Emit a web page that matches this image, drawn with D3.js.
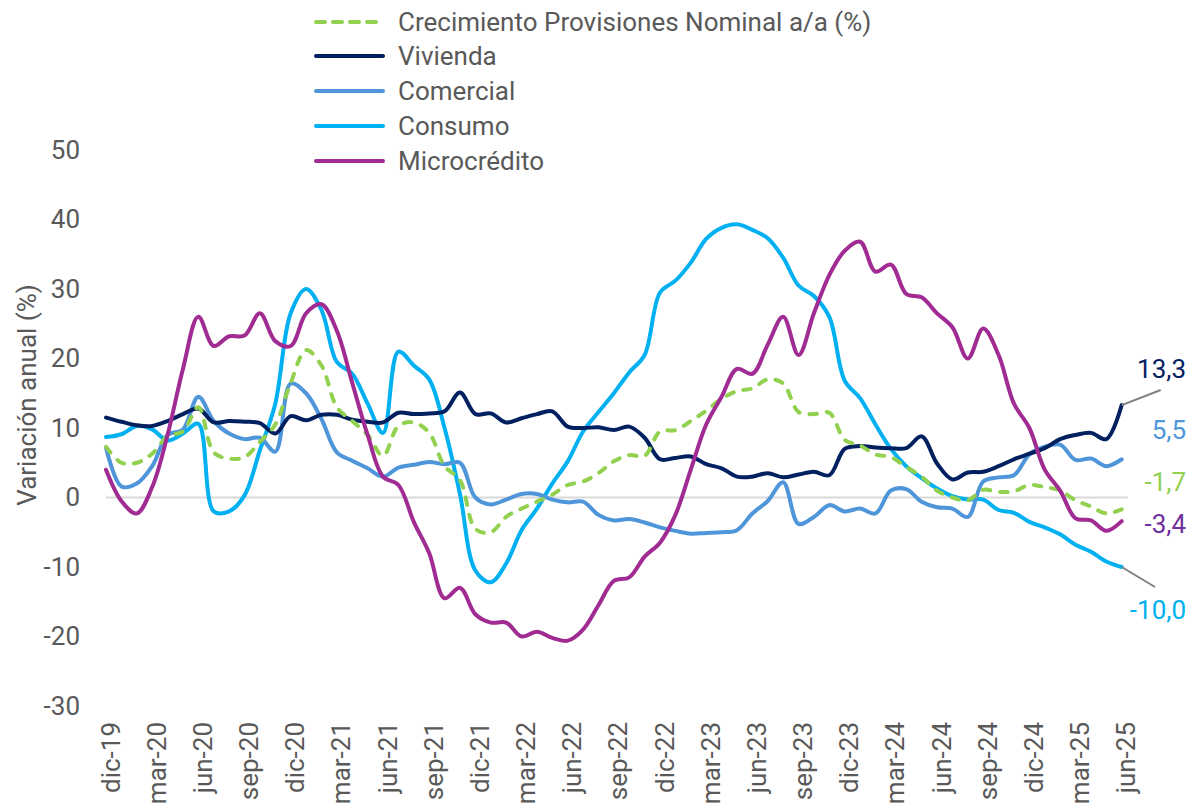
<!DOCTYPE html>
<html>
<head>
<meta charset="utf-8">
<script src="https://cdn.jsdelivr.net/npm/d3@7"></script>
<style>
  body { margin: 0; background: #fff; }
  svg { font-family: Roboto, "Noto Sans", sans-serif; }
</style>
</head>
<body>
<svg id="chart" width="1194" height="807"></svg>
<script>
// months dic-19 .. jun-25
const monthNames = ["ene","feb","mar","abr","may","jun","jul","ago","sep","oct","nov","dic"];
const months = ["dic-19"];
for (let y = 20; y <= 25; y++) {
  for (let m = 0; m < 12; m++) {
    if (y === 25 && m > 5) break;
    months.push(monthNames[m] + "-" + y);
  }
}
const tickLabels = ["dic-19","mar-20","jun-20","sep-20","dic-20","mar-21","jun-21","sep-21","dic-21","mar-22","jun-22","sep-22","dic-22","mar-23","jun-23","sep-23","dic-23","mar-24","jun-24","sep-24","dic-24","mar-25","jun-25"];
const yTicks = [50, 40, 30, 20, 10, 0, -10, -20, -30];

const provisiones = [7.3,5.0,5.0,6.3,8.8,9.5,13.0,6.5,5.6,5.8,
  8.0,10.5,16.5,21.2,19.0,13.0,11.0,9.0,6.0,10.3,
  10.8,9.3,4.5,2.5,-4.5,-5.0,-2.8,-1.6,-0.6,0.4,
  1.8,2.3,3.5,5.2,6.1,6.0,9.5,9.7,11.0,12.5,
  14.2,15.3,15.7,17.0,16.4,12.3,12.0,12.2,8.3,7.5,
  6.2,5.8,4.4,3.0,1.0,0.0,-0.4,1.1,0.8,0.9,
  1.8,1.5,1.0,-0.4,-1.3,-2.3,-1.7];
const vivienda = [11.5,10.9,10.4,10.3,11.0,12.0,12.8,10.8,11.0,10.9,
  10.7,9.2,11.7,11.1,11.9,11.9,11.2,10.9,10.8,12.2,
  12.0,12.1,12.4,15.1,12.0,12.1,10.8,11.4,12.0,12.4,
  10.2,10.0,10.1,9.7,10.2,8.6,5.5,5.7,5.9,4.8,
  4.2,3.0,3.0,3.5,2.9,3.3,3.7,3.2,7.0,7.4,
  7.2,7.1,7.1,8.8,4.9,2.6,3.6,3.7,4.5,5.5,
  6.3,7.1,8.4,9.0,9.3,8.4,13.3];
const comercial = [7.2,1.6,2.0,4.5,9.0,9.8,14.5,11.0,9.2,8.4,
  8.6,6.6,16.4,15.0,11.3,6.5,5.3,4.2,3.0,4.3,
  4.7,5.1,4.8,5.0,0.0,-1.0,-0.3,0.5,0.5,-0.3,
  -0.7,-0.6,-2.5,-3.3,-3.1,-3.6,-4.3,-4.8,-5.2,-5.1,
  -5.0,-4.7,-2.3,-0.5,2.2,-3.8,-2.8,-1.1,-2.0,-1.6,
  -2.3,1.0,1.2,-0.6,-1.4,-1.6,-2.8,2.3,2.9,3.2,
  6.2,7.3,7.6,5.4,5.6,4.5,5.5];
const consumo = [8.7,9.1,10.3,9.8,8.2,9.2,10.6,-2.0,-2.0,0.3,
  6.8,13.5,26.5,30.0,27.0,19.5,17.8,13.5,9.3,21.0,
  19.0,17.0,10.0,0.5,-10.5,-12.2,-9.5,-4.7,-1.6,2.0,
  5.2,9.5,12.3,15.0,18.0,20.5,29.5,31.2,33.8,37.2,
  38.8,39.3,38.5,37.3,34.5,30.5,29.0,26.0,16.8,14.3,
  10.5,7.0,4.5,2.8,1.3,0.2,-0.3,-0.3,-1.8,-2.2,
  -3.5,-4.3,-5.3,-6.8,-7.8,-9.2,-10.0];
const microcredito = [4.0,-0.5,-2.3,1.5,9.0,18.5,26.0,21.8,23.2,23.3,
  26.5,22.5,21.8,26.5,27.8,24.0,16.5,9.0,3.0,1.8,
  -3.5,-8.0,-14.5,-13.0,-16.8,-18.0,-18.0,-20.0,-19.3,-20.2,
  -20.6,-19.0,-15.5,-12.0,-11.5,-8.5,-6.5,-2.5,4.0,10.5,
  14.5,18.5,17.8,22.0,26.0,20.5,26.5,32.0,35.5,36.8,
  32.5,33.5,29.3,28.8,26.5,24.5,20.0,24.3,20.5,13.5,
  10.0,4.0,1.0,-3.0,-3.3,-4.8,-3.4];

const series = [
  { name: "Crecimiento Provisiones Nominal a/a (%)", values: provisiones, color: "#92d050", dash: "7.5,10", labelColor: "#92d050" },
  { name: "Vivienda", values: vivienda, color: "#002060", labelColor: "#002060" },
  { name: "Comercial", values: comercial, color: "#4e95d9", labelColor: "#4e95d9" },
  { name: "Consumo", values: consumo, color: "#00b0f0", labelColor: "#00b0f0" },
  { name: "Microcrédito", values: microcredito, color: "#a02b93", labelColor: "#7030a0" }
];

const svg = d3.select("#chart");
const textColor = "#595959";
const fontSize = "26px";

const x = d3.scalePoint().domain(months).range([106, 1121.7]);
const y = d3.scaleLinear().domain([-30, 50]).range([706, 150]);

// zero line
svg.append("line")
  .attr("x1", 106).attr("x2", 1128)
  .attr("y1", y(0)).attr("y2", y(0))
  .attr("stroke", "#d9d9d9").attr("stroke-width", 2);

// y axis
const yAxis = svg.append("g")
  .attr("transform", "translate(88,0)")
  .call(d3.axisLeft(y).tickValues(yTicks).tickSize(0).tickPadding(8).tickFormat(d => String(d)));
yAxis.select(".domain").remove();
yAxis.selectAll("text")
  .attr("fill", textColor)
  .style("font-size", fontSize)
  .style("font-family", "Roboto");

svg.append("text")
  .attr("transform", "translate(27,395) rotate(-90)")
  .attr("text-anchor", "middle")
  .attr("dominant-baseline", "central")
  .attr("fill", textColor)
  .style("font-size", fontSize)
  .text("Variación anual (%)");

// x axis
const xAxis = svg.append("g")
  .attr("transform", "translate(4,715)")
  .call(d3.axisBottom(x).tickValues(tickLabels).tickSize(0));
xAxis.select(".domain").remove();
xAxis.selectAll("text")
  .attr("transform", "rotate(-90)")
  .attr("text-anchor", "end")
  .attr("x", -7)
  .attr("y", 0)
  .attr("dy", "0.35em")
  .attr("fill", textColor)
  .style("font-size", fontSize)
  .style("font-family", "Roboto");

// lines
const line = d3.line()
  .x((d, i) => x(months[i]))
  .y(d => y(d))
  .curve(d3.curveCatmullRom.alpha(0.5));

// microcrédito drawn on top
const drawOrder = [3, 2, 1, 0, 4];
drawOrder.forEach(k => {
  const s = series[k];
  svg.append("path")
    .datum(s.values)
    .attr("d", line)
    .attr("fill", "none")
    .attr("stroke", s.color)
    .attr("stroke-width", 4)
    .attr("stroke-linecap", "round")
    .attr("stroke-linejoin", "round")
    .attr("stroke-dasharray", s.dash || null);
});

// legend
const legendY = [22, 56, 91, 126, 161];
const legend = svg.append("g");
series.forEach((s, i) => {
  legend.append("line")
    .attr("x1", 316).attr("x2", 383)
    .attr("y1", legendY[i]).attr("y2", legendY[i])
    .attr("stroke", s.color)
    .attr("stroke-width", 4)
    .attr("stroke-linecap", "round")
    .attr("stroke-dasharray", s.dash ? "9,8" : null);
  legend.append("text")
    .attr("x", 398).attr("y", legendY[i])
    .attr("dominant-baseline", "central")
    .attr("fill", textColor)
    .style("font-size", fontSize)
    .text(s.name);
});

// end labels
const fmt = v => d3.format(".1f")(v).replace(".", ",").replace("\u2212", "-");
const last = months[months.length - 1];
const endLabels = [
  { s: 1, y: 378, leader: [1160.7, 390] },
  { s: 2, y: 439 },
  { s: 0, y: 491 },
  { s: 4, y: 533 },
  { s: 3, y: 619, leader: [1155, 587] }
];
endLabels.forEach(l => {
  const s = series[l.s];
  const v = s.values[s.values.length - 1];
  if (l.leader) {
    svg.append("line")
      .attr("x1", x(last)).attr("y1", y(v))
      .attr("x2", l.leader[0]).attr("y2", l.leader[1])
      .attr("stroke", "#808080").attr("stroke-width", 2);
  }
  svg.append("text")
    .attr("x", 1186).attr("y", l.y)
    .attr("text-anchor", "end")
    .attr("fill", s.labelColor)
    .style("font-size", fontSize)
    .text(fmt(v));
});
</script>
</body>
</html>
